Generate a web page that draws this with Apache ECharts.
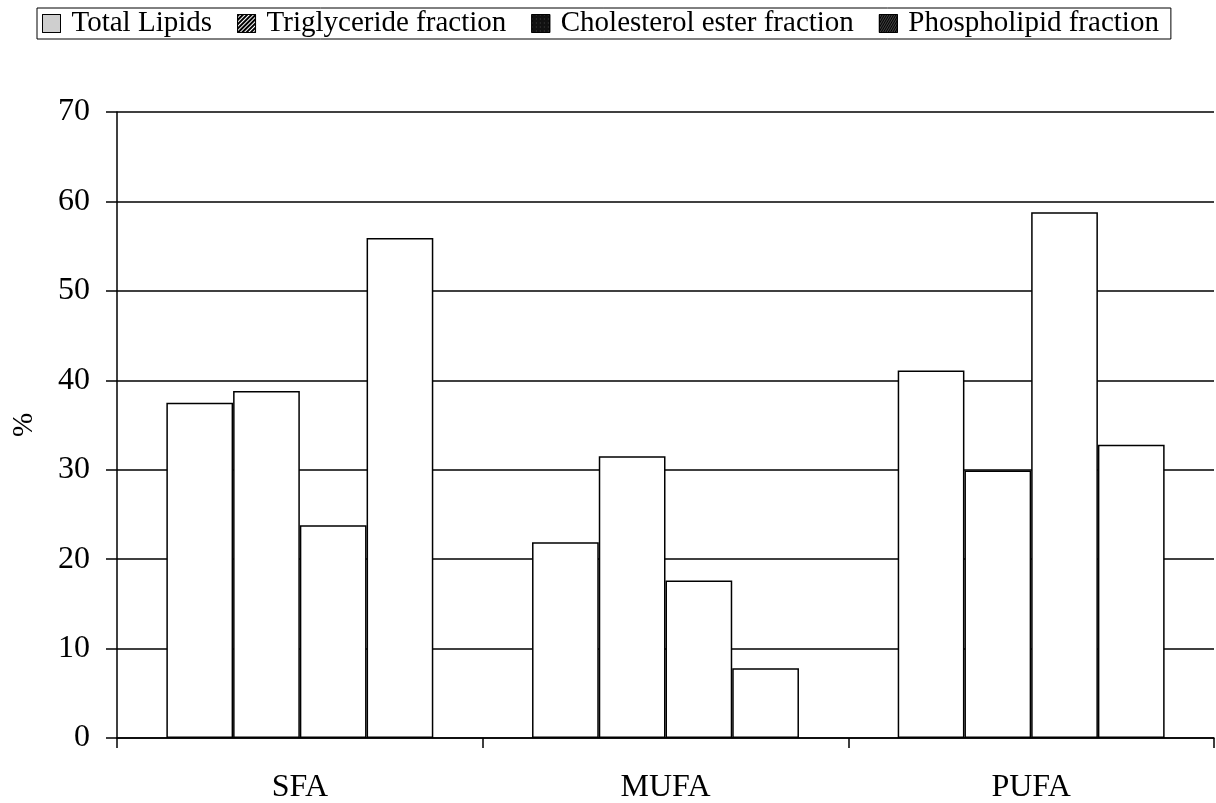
<!DOCTYPE html>
<html>
<head>
<meta charset="utf-8">
<script src="https://cdn.jsdelivr.net/npm/echarts@6/dist/echarts.min.js"></script>
<style>
  html, body { margin: 0; padding: 0; background: #fff; }
  #main { width: 1216px; height: 803px; }
</style>
</head>
<body>
<div id="main"></div>
<script>
  // categories and values
  var categories = ['SFA', 'MUFA', 'PUFA'];
  var seriesNames = ['Total Lipids', 'Triglyceride fraction', 'Cholesterol ester fraction', 'Phospholipid fraction'];
  var totalLipids = [37.5, 21.9, 41.1];
  var triglyceride = [38.8, 31.5, 29.9];
  var cholesterolEster = [23.8, 17.6, 58.8];
  var phospholipid = [55.9, 7.8, 32.8];
  var yTicks = [0, 10, 20, 30, 40, 50, 60, 70];

  var font = '"Liberation Serif", "Times New Roman", serif';
  var myChart = echarts.init(document.getElementById('main'));

  // legend swatches get their own patterns, bars stay plain white
  var legendStyles = [
    { color: '#e6e6e6', borderColor: '#000', borderWidth: 1,
      decal: { symbol: 'rect', symbolSize: 1, color: '#888', dashArrayX: [1, 1], dashArrayY: [1, 1], rotation: 0 } },
    { color: '#fff', borderColor: '#000', borderWidth: 1,
      decal: { symbol: 'rect', symbolSize: 1, color: '#000', dashArrayX: [1, 0], dashArrayY: [2, 1], rotation: -Math.PI / 4 } },
    { color: '#111', borderColor: '#000', borderWidth: 1,
      decal: { symbol: 'rect', symbolSize: 0.6, color: '#ccc', dashArrayX: [1, 3], dashArrayY: [1, 3], rotation: 0 } },
    { color: '#444', borderColor: '#000', borderWidth: 1,
      decal: { symbol: 'rect', symbolSize: 1, color: '#000', dashArrayX: [1, 0], dashArrayY: [1, 1], rotation: -Math.PI / 3 } }
  ];

  var dataSets = [totalLipids, triglyceride, cholesterolEster, phospholipid];

  var option = {
    backgroundColor: '#fff',
    animation: false,
    legend: {
      left: 37,
      top: 8,
      padding: [1, 12, 1, 5],
      borderColor: '#000',
      borderWidth: 1,
      itemWidth: 18,
      itemHeight: 18,
      itemGap: 25,
      icon: 'rect',
      textStyle: { fontFamily: font, fontSize: 29, color: '#000', padding: [0, 0, 0, 6] },
      data: seriesNames.map(function (n, i) {
        return { name: n, itemStyle: legendStyles[i] };
      })
    },
    grid: { left: 117, right: 2, top: 112, bottom: 65, outerBoundsMode: 'none' },
    xAxis: {
      type: 'category',
      data: categories,
      axisLine: { lineStyle: { color: '#000', width: 1.5 } },
      axisTick: { show: true, length: 10, lineStyle: { color: '#000', width: 1.5 } },
      axisLabel: { fontFamily: font, fontSize: 32, color: '#000', margin: 34 }
    },
    yAxis: {
      type: 'value',
      min: yTicks[0],
      max: yTicks[yTicks.length - 1],
      interval: 10,
      name: '%',
      nameLocation: 'middle',
      nameGap: 78,
      nameTextStyle: { fontFamily: font, fontSize: 29, color: '#000' },
      axisLine: { show: true, lineStyle: { color: '#000', width: 1.5 } },
      axisTick: { show: true, length: 11, lineStyle: { color: '#000', width: 1.5 } },
      axisLabel: { fontFamily: font, fontSize: 32, color: '#000', margin: 27 },
      splitLine: { lineStyle: { color: '#000', width: 1.5 } }
    },
    series: dataSets.map(function (d, i) {
      return {
        name: seriesNames[i],
        type: 'bar',
        data: d,
        barGap: '0%',
        barCategoryGap: '27%',
        itemStyle: { color: '#fff', borderColor: '#000', borderWidth: 1.5 }
      };
    })
  };
  myChart.setOption(option);
</script>
</body>
</html>
